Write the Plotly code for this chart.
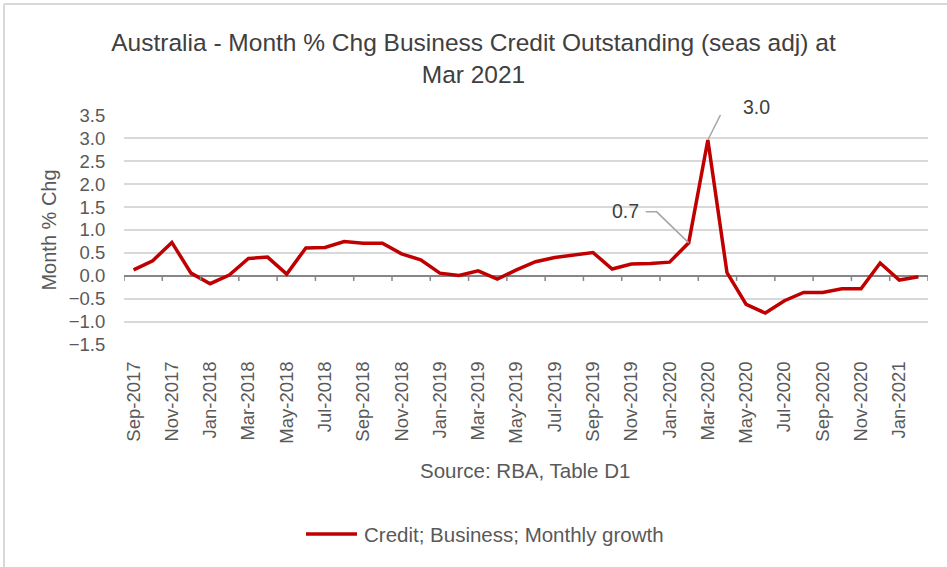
import plotly.graph_objects as go

# ---------------- data ----------------
months = ["Sep-2017", "Oct-2017", "Nov-2017", "Dec-2017",
          "Jan-2018", "Feb-2018", "Mar-2018", "Apr-2018", "May-2018", "Jun-2018",
          "Jul-2018", "Aug-2018", "Sep-2018", "Oct-2018", "Nov-2018", "Dec-2018",
          "Jan-2019", "Feb-2019", "Mar-2019", "Apr-2019", "May-2019", "Jun-2019",
          "Jul-2019", "Aug-2019", "Sep-2019", "Oct-2019", "Nov-2019", "Dec-2019",
          "Jan-2020", "Feb-2020", "Mar-2020", "Apr-2020", "May-2020", "Jun-2020",
          "Jul-2020", "Aug-2020", "Sep-2020", "Oct-2020", "Nov-2020", "Dec-2020",
          "Jan-2021", "Feb-2021"]

growth = [0.13, 0.33, 0.73, 0.06,
          -0.17, 0.02, 0.38, 0.41, 0.04, 0.61,
          0.62, 0.75, 0.71, 0.71, 0.48, 0.35,
          0.06, 0.01, 0.11, -0.07, 0.13, 0.31,
          0.40, 0.45, 0.51, 0.15, 0.26, 0.27,
          0.30, 0.72, 2.96, 0.07, -0.62, -0.81,
          -0.54, -0.36, -0.36, -0.28, -0.28, 0.28,
          -0.09, -0.02]

tick_labels = months[::2]
label_idx = [29, 30]  # annotated points

title_text = "Australia - Month % Chg Business Credit Outstanding (seas adj) at<br>Mar 2021"
series_name = "Credit; Business; Monthly growth"
source_text = "Source: RBA, Table D1"
y_title = "Month % Chg"

# ---------------- layout geometry ----------------
W, H = 947, 567
L, R, T, B = 124, 19, 115, 222
PW, PH = W - L - R, H - T - B

def px_x(p):
    return (p - L) / PW

def px_y(p):
    return (H - B - p) / PH

FONT = "Liberation Sans, Arial, sans-serif"
GREY = "#595959"
RED = "#C00000"

fig = go.Figure()
fig.add_trace(go.Scatter(
    x=months, y=growth, mode="lines", name=series_name,
    line=dict(color=RED, width=3.5), showlegend=False,
))

shapes = []
# tick marks on zero line at category boundaries
for b in range(0, len(months) + 1, 2):
    shapes.append(dict(type="line", xref="x", yref="y", ysizemode="pixel", yanchor=0,
                       x0=b - 0.5, x1=b - 0.5, y0=0, y1=-5,
                       line=dict(color="#868686", width=1.5)))

# leader lines for data labels
annotations = []
offsets = {29: (-1, 31, -32, -43), 30: (1, 32, 16, 26)}
for i in label_idx:
    side, dy, kx, ex = offsets[i]
    shapes.append(dict(type="path", xref="x", yref="y", xsizemode="pixel", ysizemode="pixel",
                       xanchor=i, yanchor=growth[i],
                       path=f"M0,0 L{kx},{dy} L{ex},{dy}",
                       line=dict(color="#A6A6A6", width=1.5)))
    annotations.append(dict(x=i, y=growth[i], xref="x", yref="y", text=f"{growth[i]:.1f}",
                            showarrow=False, xshift=(ex - 5) if side < 0 else (ex + 7),
                            yshift=dy + 1, xanchor="right" if side < 0 else "left",
                            yanchor="middle", font=dict(size=19.5, color="#404040", family=FONT)))

# outer border (top & left)
shapes.append(dict(type="line", xref="paper", yref="paper", x0=px_x(4), x1=px_x(W + 5),
                   y0=px_y(4), y1=px_y(4), line=dict(color="#D9D9D9", width=2)))
shapes.append(dict(type="line", xref="paper", yref="paper", x0=px_x(4), x1=px_x(4),
                   y0=px_y(4), y1=px_y(H + 5), line=dict(color="#D9D9D9", width=2)))

# custom legend (line sample + label)
shapes.append(dict(type="line", xref="paper", yref="paper", x0=px_x(306), x1=px_x(357),
                   y0=px_y(534), y1=px_y(534), line=dict(color=RED, width=3.5)))
annotations.append(dict(x=px_x(362), y=px_y(534), xref="paper", yref="paper", text=series_name,
                        showarrow=False, xanchor="left", yanchor="middle",
                        font=dict(size=20.5, color=GREY, family=FONT)))

annotations.append(dict(x=px_x(525), y=px_y(470), xref="paper", yref="paper", text=source_text,
                        showarrow=False, xanchor="center", yanchor="middle",
                        font=dict(size=20.5, color=GREY, family=FONT)))

fig.update_layout(
    width=W, height=H,
    margin=dict(l=L, r=R, t=T, b=B, pad=0),
    paper_bgcolor="white", plot_bgcolor="white",
    font=dict(family=FONT, color=GREY, size=18),
    showlegend=False,
    title=dict(text=title_text, x=0.5, xref="container", xanchor="center",
               y=1 - 51 / H, yref="container", yanchor="middle",
               font=dict(size=24.5, color="#404040", family=FONT)),
    xaxis=dict(type="category", categoryorder="array", categoryarray=months,
               range=[-0.5, len(months) - 0.5],
               tickmode="array", tickvals=tick_labels, ticktext=tick_labels,
               tickangle=-90, showgrid=False, showline=False, zeroline=False,
               ticks="outside", ticklen=8, tickcolor="rgba(0,0,0,0)",
               tickfont=dict(size=18.5, color=GREY, family=FONT)),
    yaxis=dict(range=[-1.505, 3.505], dtick=0.5, tick0=0, tickformat=".1f",
               showgrid=True, gridcolor="#D9D9D9", gridwidth=1.5,
               zeroline=True, zerolinecolor="#868686", zerolinewidth=1.5,
               showline=False, ticks="outside", ticklen=14, tickcolor="rgba(0,0,0,0)",
               tickfont=dict(size=18.5, color=GREY, family=FONT),
               title=dict(text=y_title, standoff=6, font=dict(size=20, color=GREY, family=FONT))),
    shapes=shapes, annotations=annotations,
)

fig.write_html("out.html")
